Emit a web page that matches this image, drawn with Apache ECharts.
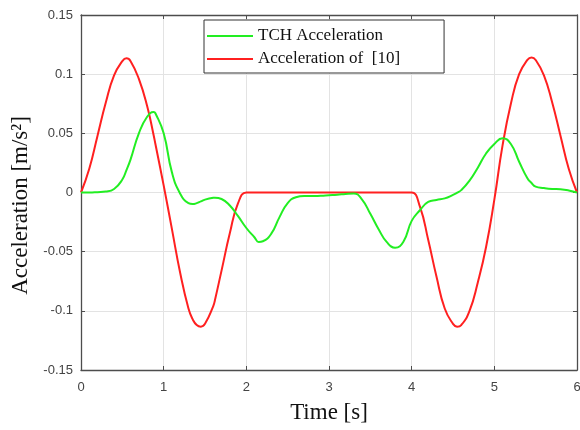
<!DOCTYPE html>
<html>
<head>
<meta charset="utf-8">
<script src="https://cdn.jsdelivr.net/npm/echarts@6/dist/echarts.min.js"></script>
<style>html,body{margin:0;padding:0;background:#fff}#c{width:580px;height:430px}</style>
</head>
<body>
<div id="c"></div>
<script>
var time = [0,0.1,0.2,0.3,0.4,0.5,0.55,0.6,0.7,0.8,0.88,0.9,1.0,1.1,1.2,1.3,1.35,1.4,1.45,1.5,1.6,1.62,1.7,1.8,1.9,2.0,
  2.1,2.15,2.2,2.3,2.4,2.5,2.6,2.7,2.8,2.9,3.0,3.1,3.2,3.3,3.4,3.5,3.6,3.7,3.8,3.9,4.0,
  4.1,4.2,4.3,4.4,4.5,4.55,4.6,4.7,4.8,4.9,5.0,5.1,5.2,5.3,5.4,5.45,5.5,5.6,5.7,5.8,5.9,6.0];
var tchAcc = [0,0,0.0003,0.0008,0.003,0.011,0.019,0.028,0.050,0.064,0.068,0.067,0.050,0.017,-0.001,-0.009,-0.0098,-0.009,-0.0075,-0.006,-0.0045,-0.0044,-0.0055,-0.011,-0.020,-0.030,
  -0.038,-0.0418,-0.0412,-0.035,-0.021,-0.009,-0.004,-0.003,-0.003,-0.0027,-0.0023,-0.0019,-0.0012,-0.0008,-0.006,-0.018,-0.031,-0.042,-0.0466,-0.0416,-0.024,
  -0.015,-0.008,-0.0063,-0.005,-0.002,-0.0002,0.002,0.010,0.021,0.033,0.041,0.0458,0.041,0.026,0.012,0.008,0.005,0.0038,0.003,0.0027,0.0017,0];
var refAcc = [0,0.020,0.048,0.076,0.099,0.111,0.1134,0.111,0.096,0.073,0.048,0.041,0.006,-0.031,-0.068,-0.098,-0.107,-0.112,-0.1134,-0.111,-0.096,-0.091,-0.066,-0.0345,-0.009,0,
  0,0,0,0,0,0,0,0,0,0,0,0,0,0,0,0,0,0,0,0,0,
  -0.012,-0.040,-0.071,-0.098,-0.111,-0.1134,-0.112,-0.100,-0.076,-0.046,-0.006,0.040,0.075,0.100,0.112,0.114,0.112,0.099,0.076,0.048,0.020,0];
var xTicks = [0,1,2,3,4,5,6];
var yTickLabels = {'0.15':'0.15','0.1':'0.1','0.05':'0.05','0':'0','-0.05':'-0.05','-0.1':'-0.1','-0.15':'-0.15'};
var seriesNames = ['TCH Acceleration','Acceleration of  [10]'];

function pairs(xs, ys){ return xs.map(function(x,i){ return [x, ys[i]]; }); }

var axisLine = {show:true, onZero:false, lineStyle:{color:'#4d4d4d', width:1.3}};
var tick = {inside:true, length:4, lineStyle:{color:'#4d4d4d'}};
var chart = echarts.init(document.getElementById('c'), null, {renderer:'canvas'});
chart.setOption({
  animation:false,
  backgroundColor:'#fff',
  grid:{left:81, right:3, top:15, bottom:60, containLabel:false, outerBoundsMode:'none'},
  legend:{
    left:204, top:20, orient:'vertical', icon:'rect',
    data:[{name:seriesNames[0]},{name:seriesNames[1]}],
    backgroundColor:'#fff', borderColor:'#333', borderWidth:1,
    padding:[6,44,4,3], itemGap:3, itemWidth:46, itemHeight:2,
    textStyle:{fontFamily:'Liberation Serif', fontSize:17, lineHeight:20, color:'#111'}
  },
  xAxis:[{
    type:'value', min:0, max:6, interval:1,
    name:'Time [s]', nameLocation:'middle', nameGap:31,
    nameTextStyle:{fontFamily:'Liberation Serif', fontSize:23, color:'#111'},
    axisLine:axisLine, axisTick:tick,
    axisLabel:{color:'#444', fontFamily:'Liberation Sans', fontSize:13, margin:11},
    splitLine:{show:true, lineStyle:{color:'#e3e3e3', width:1}}
  },{
    type:'value', min:0, max:6, interval:1, position:'top',
    axisLine:axisLine, axisTick:tick,
    axisLabel:{show:false}, splitLine:{show:false}
  }],
  yAxis:[{
    type:'value', min:-0.15, max:0.15, interval:0.05,
    name:'Acceleration [m/s²]', nameLocation:'middle', nameGap:49,
    nameTextStyle:{fontFamily:'Liberation Serif', fontSize:23, color:'#111', padding:[0,26,0,0]},
    axisLine:axisLine, axisTick:tick,
    axisLabel:{color:'#444', fontFamily:'Liberation Sans', fontSize:13, margin:8,
      formatter:function(v){ var k = String(+v.toFixed(2)); return yTickLabels[k] !== undefined ? yTickLabels[k] : k; }},
    splitLine:{show:true, lineStyle:{color:'#e3e3e3', width:1}}
  },{
    type:'value', min:-0.15, max:0.15, interval:0.05, position:'right',
    axisLine:axisLine, axisTick:tick,
    axisLabel:{show:false}, splitLine:{show:false}
  }],
  series:[{
    name:seriesNames[0], type:'line', smooth:0.5, symbol:'none',
    data:pairs(time, tchAcc), lineStyle:{color:'#22ee22', width:2}, itemStyle:{color:'#22ee22'}, z:3
  },{
    name:seriesNames[1], type:'line', smooth:0.5, symbol:'none',
    data:pairs(time, refAcc), lineStyle:{color:'#ff2020', width:2}, itemStyle:{color:'#ff2020'}, z:2
  }]
});
</script>
</body>
</html>
